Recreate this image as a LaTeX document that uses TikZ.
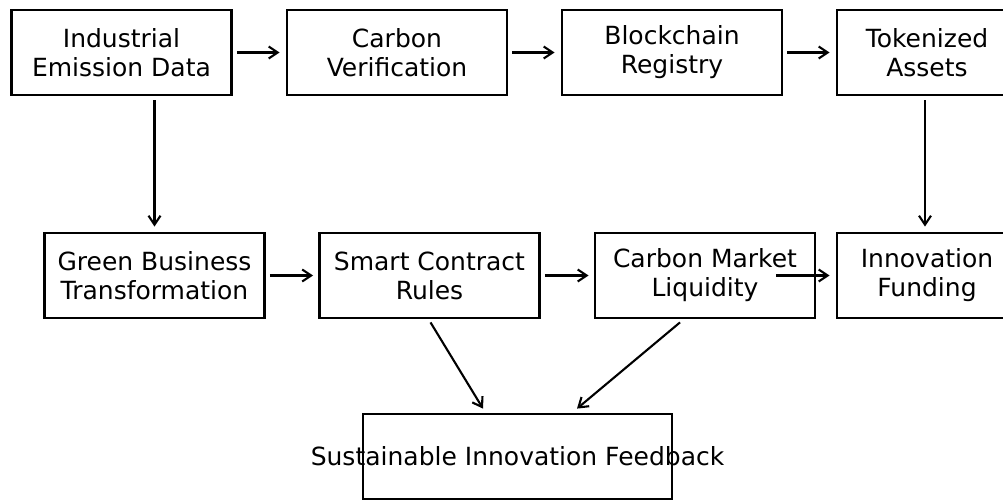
\documentclass[tikz,border=0pt]{standalone}
\usepackage{fontspec}
\setmainfont{DejaVu Sans}
\usetikzlibrary{arrows.meta,calc}
\begin{document}
\begin{tikzpicture}[x=1pt,y=-1pt,
  box/.style={draw=black,line width=2.8pt,rectangle,inner sep=0pt,
    minimum width=220pt,minimum height=85pt,align=center,
    font=\fontsize{25}{29}\selectfont},
  flow/.style={line width=2.1pt,-{Straight Barb[length=9pt,width=12pt,line width=2.1pt]}},
  label/.style={font=\fontsize{25}{29}\selectfont,inner sep=0pt}]
\useasboundingbox (0,0) rectangle (1003,500);
\clip (0,0) rectangle (1003,500);
\fill[white] (0,0) rectangle (1003,500);

% top row
\node[box] (ied) at (121.5,52.5) {Industrial\\Emission Data};
\node[box] (cv)  at (397,52.5)   {Carbon\\Verification};
\node[box] (br)  at (672,52.5)   {Blockchain\\Registry};
\node[box,minimum width=180pt] (ta)  at (927,52.5) {Tokenized\\Assets};

% middle row
\node[box] (gbt) at (154.5,275.5) {Green Business\\Transformation};
\node[box] (scr) at (429.5,275.5) {Smart Contract\\Rules};
\node[box] (cml) at (705,275.5)   {Carbon Market\\Liquidity};
\node[box,minimum width=180pt] (inf) at (927,275.5) {Innovation\\Funding};

% feedback box, its label runs past the frame
\node[box,minimum width=309pt] (sif) at (517.5,456.5) {};
\node[label] (siftext) at (sif.center) {Sustainable Innovation Feedback};

% top row flow
\draw[flow,shorten <=4pt,shorten >=6pt] (ied.east) -- (cv.west);
\draw[flow,shorten <=4pt,shorten >=6pt] (cv.east) -- (br.west);
\draw[flow,shorten <=4pt,shorten >=6pt] (br.east) -- (ta.west);

% vertical links
\draw[flow,shorten <=4pt,shorten >=5pt] (ied.south -| gbt.north) -- (gbt.north);
\draw[flow,shorten <=4pt,shorten >=5pt] (ta.south -| 925,0) -- (inf.north -| 925,0);

% middle row flow
\draw[flow,shorten <=4pt,shorten >=5pt] (gbt.east) -- (scr.west);
\draw[flow,shorten <=4pt,shorten >=5pt] (scr.east) -- (cml.west);
\draw[flow,shorten >=6pt] ($(cml.east)+(-40,0)$) -- (inf.west);

% into the feedback box
\draw[flow] ($(scr.south)+(1,3)$) -- ($(sif.north)+(-34.5,-4)$);
\draw[flow] ($(cml.south)+(-25,3)$) -- ($(sif.north)+(59.5,-4)$);
\end{tikzpicture}
\end{document}
